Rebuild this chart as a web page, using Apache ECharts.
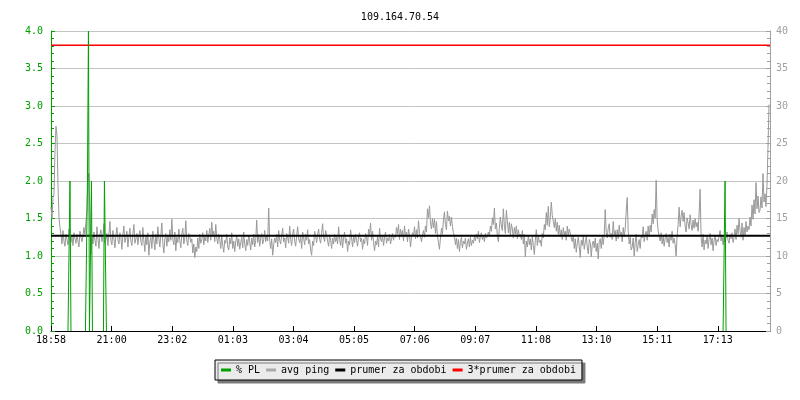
<!DOCTYPE html>
<html><head><meta charset="utf-8">
<script src="https://cdn.jsdelivr.net/npm/echarts@6/dist/echarts.min.js"></script>
<style>html,body{margin:0;padding:0;background:#fff}#c{width:800px;height:400px}</style>
</head><body><div id="c"></div>
<script>
const chartTitle = '109.164.70.54';
const xTickLabels = ['18:58','21:00','23:02','01:03','03:04','05:05','07:06','09:07','11:08','13:10','15:11','17:13'];
const spanMinutes = 1440;
const tickStepMinutes = 121.4;
const seriesNames = ['% PL', 'avg ping', 'prumer za obdobi', '3*prumer za obdobi'];

// avg ping [ms], right axis, one sample every 2 minutes
const avgPing = [
  16.5, 15.0, 17.8, 18.2, 24.0, 27.3, 26.0, 19.5, 15.2, 13.8,
  12.8, 11.6, 13.4, 12.0, 11.3, 12.9, 12.2, 11.5, 13.6, 12.4, 11.8, 12.7, 11.4, 13.1, 12.3, 11.7, 12.9, 12.0, 11.2, 13.3, 12.5, 11.9, 12.6, 13.8,
  12.9, 14.6, 16.0, 20.3, 21.0, 15.4, 10.2, 12.8,
  11.6, 13.2, 12.1, 11.3, 13.9, 12.4, 11.0, 12.8, 13.5, 11.9,
  12.6, 14.3, 11.7, 12.2, 13.0, 11.4, 12.9, 14.6, 12.0, 11.5,
  13.4, 12.3, 11.1, 12.7, 13.8, 12.2, 11.6, 13.1, 12.5, 10.9,
  12.8, 14.0, 11.8, 12.4, 13.3, 11.2, 12.6, 13.7, 12.0, 11.4,
  12.9, 14.2, 11.7, 12.3, 13.0, 11.5, 12.7, 13.4, 11.9,
  11.4, 13.8, 12.0, 10.6, 12.7, 11.5, 13.1, 10.1, 11.9, 12.5,
  11.0, 13.3, 12.2, 10.8, 12.9, 11.6, 13.9, 12.4, 11.2, 12.8,
  14.4, 11.7, 10.4, 12.3, 13.0, 11.3, 12.6, 11.9, 13.5, 12.1,
  14.9, 12.2, 11.5, 13.2, 10.7, 12.5, 11.8, 13.6, 12.0, 11.1,
  12.9, 13.7, 11.6, 12.4, 14.7, 12.0, 11.4, 13.0, 12.6, 11.8,
  12.3, 10.4, 11.6, 9.8, 11.2, 10.6, 12.4, 11.0, 12.9, 11.7,
  12.2, 13.1, 11.5, 12.6, 12.0, 13.4, 11.8, 12.8, 13.7, 12.1,
  14.5, 12.6, 13.3, 11.9, 14.2, 12.4, 11.6, 12.9,
  12.2, 11.0, 12.6, 11.4, 10.5, 12.1, 11.7, 12.9, 11.2, 10.8,
  12.4, 11.6, 13.1, 11.0, 12.0, 10.6, 11.9, 12.7, 11.3, 12.3,
  10.9, 11.8, 12.5, 11.1, 13.2, 11.6, 10.7, 12.2, 11.4, 12.8,
  11.9, 10.8, 12.4, 11.5, 12.9, 11.2, 12.1,
  14.8, 11.8, 12.9, 11.3, 12.4, 13.0, 11.6, 12.2, 13.4, 11.9, 12.6, 12.0, 16.4, 12.1,
  11.0, 12.3, 10.1, 11.5, 12.4,
  11.8, 12.9, 11.2, 13.4, 12.1, 11.6, 12.8, 13.7, 11.9, 12.4,
  11.1, 13.0, 12.5, 11.7, 14.0, 12.2, 11.4, 12.9, 13.6, 12.0,
  11.3, 12.7, 13.9, 12.3, 11.8, 12.6, 11.0, 13.2, 12.4, 11.5,
  12.9, 12.1, 13.5, 11.6, 12.2, 10.8,
  10.1, 12.0, 11.4, 13.3, 12.6, 11.8, 12.9, 13.6, 12.2, 11.7,
  13.1, 14.3, 12.5, 11.9, 13.4, 12.8, 12.0, 11.3, 12.7, 12.1,
  11.0, 12.4, 11.6, 12.9, 11.9, 12.5,
  11.6, 13.9, 12.2, 11.4, 12.8, 11.1, 12.5, 13.2, 11.7, 12.3,
  10.6, 12.0, 11.5, 13.5, 12.4, 11.2, 12.7, 11.8, 12.9, 12.1,
  11.3, 12.6, 13.1, 11.9, 12.4, 10.9, 12.2, 11.6, 13.0, 12.5,
  11.4, 13.6, 12.8, 14.4, 12.1, 13.3, 11.8, 10.7, 12.0, 11.5,
  12.6, 11.2, 13.7, 12.3, 11.9, 12.8, 11.4, 12.5, 13.2, 11.7,
  12.4, 12.0, 12.9, 11.6, 12.3, 13.0, 12.1, 12.8,
  12.5, 13.8, 12.9, 14.2, 12.2, 13.6, 12.7, 13.4, 12.0, 14.0,
  12.6, 13.2, 11.9, 13.6, 12.8, 11.2, 12.4, 13.1, 12.7, 13.9,
  12.3, 13.5, 12.4, 14.7, 13.0, 12.6,
  11.9, 12.8, 13.4, 12.5, 14.0, 13.2, 16.3, 15.1, 16.7, 14.4,
  13.6, 15.0, 13.8, 14.9, 13.0, 14.6, 12.7, 11.8, 10.9, 12.4,
  13.7, 12.9, 14.8, 15.9, 14.2, 13.5, 16.0, 14.7, 15.3, 14.0,
  15.2, 13.9, 13.1, 12.6, 11.5, 12.4, 11.0, 12.2, 10.6, 11.8,
  12.5, 11.1, 12.0, 11.6, 12.4, 10.9, 11.7, 12.3, 11.2, 12.5,
  11.4, 12.1, 11.7, 12.6,
  12.0, 12.9, 12.3, 13.3, 11.8, 12.6, 13.1, 12.2, 12.8, 11.9, 13.0, 12.4, 12.7,
  13.2, 12.7, 14.0, 13.3, 15.1, 14.2, 16.4, 13.6, 14.4, 12.6,
  11.9, 13.8, 15.2, 14.0, 13.4, 16.3, 14.1, 13.0, 16.1, 14.7,
  13.1, 14.5, 12.8, 14.3, 13.6, 12.4, 13.8, 12.9, 14.0, 12.3,
  13.5, 12.6, 12.9,
  12.2, 13.4, 11.6, 12.9, 9.9, 12.0, 11.2, 12.8, 11.5, 12.3,
  10.8, 12.6, 11.4, 10.2, 12.1, 13.5, 11.4, 12.7, 11.8,
  12.1, 11.3, 13.0, 12.4, 14.2, 13.5, 15.8, 14.1, 16.6, 13.9, 15.1,
  17.2,
  15.4, 14.6, 13.8, 15.0, 13.3, 14.5, 12.9, 14.1, 12.6, 13.5,
  12.2, 13.8, 12.8, 13.3, 12.1, 14.0, 12.7, 13.6,
  13.7, 12.4, 11.9, 12.8, 11.0, 12.3, 10.5, 11.7, 12.5, 11.3,
  9.8, 12.1, 11.4, 12.6, 10.9, 11.8, 12.6, 11.2, 10.3, 12.2,
  11.8, 9.9, 11.5, 12.0, 11.1, 12.4, 10.6, 11.7, 9.6, 11.9,
  12.3, 11.0, 12.6, 11.5, 12.8,
  16.2,
  13.1, 12.4, 13.7, 14.3, 12.5, 13.0, 12.2, 14.6, 12.8, 13.4,
  12.0, 13.5, 12.3, 14.1, 12.7, 13.2, 11.9, 13.8, 12.6, 13.6,
  15.9, 17.8,
  13.4, 11.6, 12.5, 10.8, 11.2, 12.4, 10.0, 11.8, 12.9, 10.6, 11.5, 12.2, 11.0, 12.7,
  12.4, 13.9, 11.9, 12.8, 13.3, 12.1, 14.0, 12.6,
  14.1, 13.2, 15.6, 14.3, 16.2, 15.0, 20.1, 14.8, 13.4, 12.6,
  12.0, 13.1, 11.6, 12.7, 11.3, 12.4, 13.0, 11.8, 12.5, 11.2, 12.9, 12.1, 13.3, 11.7, 12.4, 11.5,
  10.0,
  12.8, 14.2, 16.5, 13.9, 15.3, 16.1, 14.6, 15.8, 14.0, 13.2,
  15.1, 14.4, 13.6, 15.5, 14.2, 13.4, 14.8, 13.7, 15.0, 13.9,
  14.5, 13.3, 15.6,
  18.9,
  12.5, 11.2, 12.9, 10.8, 12.1, 11.6, 12.7, 11.0, 12.3, 13.0,
  11.5, 12.4, 10.7, 12.0, 12.8, 11.4, 12.2, 11.9, 12.6,
  13.4, 12.0, 12.8, 11.5, 12.6, 11.9, 12.4, 13.2, 12.1, 11.7, 12.9, 12.3, 13.1, 11.8, 12.5,
  13.6, 12.2, 14.1, 12.9, 15.0, 13.3, 12.5, 14.4, 12.1, 13.8, 12.7, 14.6, 13.2, 14.0, 13.5,
  15.2, 14.0, 16.8, 14.9, 17.5, 15.6, 19.8, 16.3, 18.0, 15.8,
  16.1, 17.9, 16.4, 21.0, 17.2, 18.3, 16.6, 19.5,
  24.5, 30.2
];

// packet loss [%], left axis: start minute of each loss burst and its per-sample values
const plStartMin = [36, 71, 79, 107, 1348];
const plValues = [[1, 2], [1, 2, 4], [1, 2], [2, 1], [1, 2]];
const plSampleMin = 2;

const periodMean = 12.7;
const periodMean3 = 38.1;

const MONO = 'DejaVu Sans Mono';
const FS = 10;
const GREEN = '#00a000';
const GRAY_AX = '#a0a0a0';

const pingStep = spanMinutes / avgPing.length;
const pingData = avgPing.map((v, i) => [i * pingStep, v]);

const plData = [];
plStartMin.forEach((t0, k) => {
  plData.push([t0 - plSampleMin, 0]);
  plValues[k].forEach((v, j) => plData.push([t0 + j * plSampleMin, v]));
  const tEnd = t0 + plValues[k].length * plSampleMin;
  plData.push([tEnd, 0]);
  plData.push([tEnd, '-']);
});

const chart = echarts.init(document.getElementById('c'), null, {renderer: 'canvas'});
chart.setOption({
  animation: false,
  backgroundColor: '#ffffff',
  title: {
    text: chartTitle, left: 'center', top: 7,
    textStyle: {fontFamily: MONO, fontSize: FS, fontWeight: 'normal', color: '#000'}
  },
  legend: {
    left: 215, top: 360,
    data: seriesNames,
    icon: 'rect', itemWidth: 10, itemHeight: 3, itemGap: 6,
    textStyle: {fontFamily: MONO, fontSize: FS, color: '#000'},
    backgroundColor: '#ebebeb', borderColor: '#000', borderWidth: 1, borderRadius: 0,
    padding: [5, 6, 5, 6],
    shadowColor: '#7a7a7a', shadowOffsetX: 3, shadowOffsetY: 3, shadowBlur: 0,
    selectedMode: false
  },
  grid: {left: 51, right: 30, top: 31, bottom: 69, containLabel: false},
  xAxis: {
    type: 'value', min: 0, max: spanMinutes, interval: tickStepMinutes,
    axisLine: {show: true, lineStyle: {color: '#000', width: 1}},
    axisTick: {show: true, inside: true, length: 5, lineStyle: {color: '#000'}},
    axisLabel: {
      fontFamily: MONO, fontSize: FS, color: '#000', margin: 4, showMaxLabel: false,
      formatter: v => { const k = Math.round(v / tickStepMinutes); return xTickLabels[k] || ''; }
    },
    splitLine: {show: false}
  },
  yAxis: [
    {
      type: 'value', min: 0, max: 4, interval: 0.5, position: 'left',
      axisLine: {show: true, lineStyle: {color: GREEN}},
      axisTick: {show: true, inside: true, length: 4, lineStyle: {color: GREEN}},
      minorTick: {show: true, splitNumber: 5, length: 3, lineStyle: {color: GREEN}},
      axisLabel: {fontFamily: MONO, fontSize: FS, color: GREEN, margin: 8, formatter: v => v.toFixed(1)},
      splitLine: {show: true, lineStyle: {color: '#c4c4c4', width: 1}}
    },
    {
      type: 'value', min: 0, max: 40, interval: 5, position: 'right',
      axisLine: {show: true, lineStyle: {color: GRAY_AX}},
      axisTick: {show: true, inside: true, length: 4, lineStyle: {color: GRAY_AX}},
      minorTick: {show: true, splitNumber: 5, length: 3, lineStyle: {color: GRAY_AX}},
      axisLabel: {fontFamily: MONO, fontSize: FS, color: GRAY_AX, margin: 6},
      splitLine: {show: false}
    }
  ],
  series: [
    {
      name: 'avg ping', type: 'line', yAxisIndex: 1, data: pingData, z: 2,
      symbol: 'none', lineStyle: {color: '#999999', width: 1}, itemStyle: {color: '#aaaaaa'}
    },
    {
      name: 'prumer za obdobi', type: 'line', yAxisIndex: 1, z: 3,
      data: [[0, periodMean], [spanMinutes, periodMean]],
      symbol: 'none', lineStyle: {color: '#000', width: 2}, itemStyle: {color: '#000'}
    },
    {
      name: '3*prumer za obdobi', type: 'line', yAxisIndex: 1, z: 3,
      data: [[0, periodMean3], [spanMinutes, periodMean3]],
      symbol: 'none', lineStyle: {color: '#ff0000', width: 1.5}, itemStyle: {color: '#ff0000'}
    },
    {
      name: '% PL', type: 'line', yAxisIndex: 0, z: 4, data: plData, connectNulls: false,
      symbol: 'none', lineStyle: {color: GREEN, width: 1}, itemStyle: {color: GREEN}
    }
  ]
});
</script>
</body></html>
